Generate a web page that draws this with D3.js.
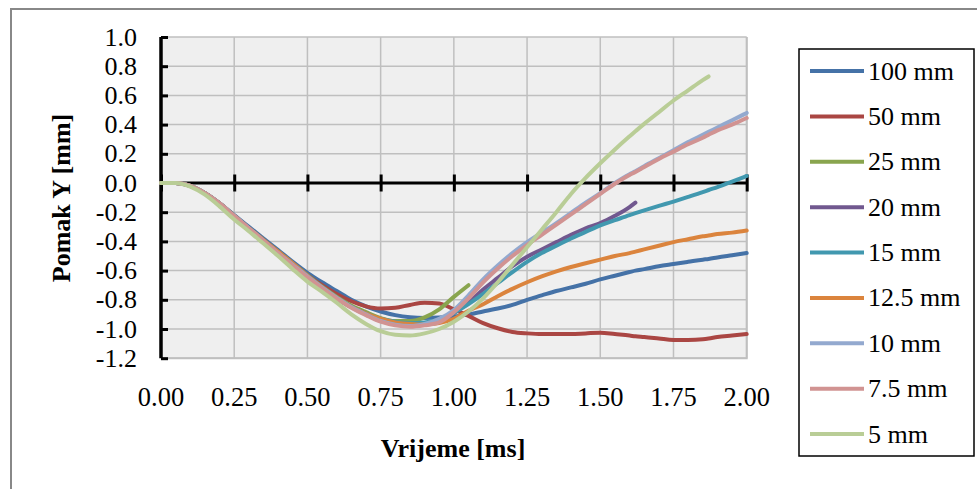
<!DOCTYPE html>
<html>
<head>
<meta charset="utf-8">
<script src="https://cdn.jsdelivr.net/npm/d3@7"></script>
<style>
  html, body { margin: 0; padding: 0; background: #fff; }
  svg { display: block; }
  text { font-family: "Liberation Serif", "Times New Roman", serif; fill: #000; }
</style>
</head>
<body>
<svg id="chart" width="977" height="489"></svg>
<script>
// ---- data ----
const time = [0,0.05,0.1,0.15,0.2,0.25,0.3,0.35,0.4,0.45,0.5,0.55,0.6,0.65,0.7,0.75,0.8,0.85,0.9,0.95,1.0,1.05,1.1,1.15,1.2,1.25,1.3,1.35,1.4,1.45,1.5,1.55,1.6,1.62,1.65,1.7,1.75,1.8,1.85,1.87,1.9,1.95,2.0];

const s100 = [0,0,-0.02,-0.07,-0.14,-0.22,-0.30,-0.38,-0.46,-0.54,-0.615,-0.68,-0.74,-0.80,-0.845,-0.88,-0.905,-0.92,-0.925,-0.922,-0.915,-0.90,-0.88,-0.86,-0.835,-0.80,-0.77,-0.74,-0.715,-0.69,-0.66,-0.635,-0.61,-0.60,-0.59,-0.57,-0.555,-0.54,-0.525,-0.52,-0.51,-0.495,-0.48];
const s50 = [0,0,-0.02,-0.07,-0.14,-0.225,-0.31,-0.39,-0.47,-0.55,-0.63,-0.70,-0.76,-0.81,-0.845,-0.86,-0.855,-0.835,-0.82,-0.825,-0.865,-0.91,-0.96,-0.995,-1.02,-1.03,-1.035,-1.035,-1.035,-1.03,-1.025,-1.035,-1.045,-1.05,-1.055,-1.065,-1.075,-1.075,-1.07,-1.065,-1.055,-1.045,-1.035];
const s25 = [0,0,-0.02,-0.07,-0.14,-0.225,-0.31,-0.39,-0.47,-0.55,-0.63,-0.71,-0.78,-0.84,-0.885,-0.925,-0.945,-0.945,-0.92,-0.865,-0.78,-0.70,null,null,null,null,null,null,null,null,null,null,null,null,null,null,null,null,null,null,null,null,null];
const s20 = [0,0,-0.02,-0.07,-0.14,-0.225,-0.31,-0.39,-0.47,-0.55,-0.635,-0.715,-0.79,-0.85,-0.90,-0.935,-0.96,-0.97,-0.965,-0.94,-0.89,-0.82,-0.73,-0.65,-0.57,-0.505,-0.455,-0.405,-0.355,-0.31,-0.275,-0.225,-0.165,-0.135,null,null,null,null,null,null,null,null,null];
const s15 = [0,0,-0.02,-0.07,-0.14,-0.225,-0.31,-0.39,-0.47,-0.55,-0.635,-0.715,-0.79,-0.85,-0.895,-0.93,-0.95,-0.96,-0.955,-0.935,-0.89,-0.83,-0.76,-0.685,-0.61,-0.54,-0.48,-0.43,-0.38,-0.335,-0.29,-0.255,-0.22,-0.207,-0.188,-0.157,-0.127,-0.095,-0.062,-0.048,-0.028,0.01,0.048];
const s12 = [0,0,-0.02,-0.07,-0.14,-0.225,-0.31,-0.39,-0.47,-0.55,-0.635,-0.715,-0.79,-0.85,-0.895,-0.93,-0.955,-0.965,-0.97,-0.96,-0.93,-0.875,-0.83,-0.775,-0.725,-0.68,-0.64,-0.605,-0.575,-0.55,-0.525,-0.50,-0.48,-0.47,-0.455,-0.43,-0.405,-0.385,-0.365,-0.36,-0.35,-0.34,-0.325];
const s10 = [0,0,-0.02,-0.07,-0.14,-0.225,-0.31,-0.395,-0.48,-0.56,-0.64,-0.715,-0.785,-0.85,-0.90,-0.945,-0.97,-0.98,-0.965,-0.93,-0.87,-0.77,-0.66,-0.565,-0.48,-0.405,-0.34,-0.275,-0.205,-0.135,-0.07,0.0,0.06,0.08,0.115,0.17,0.225,0.28,0.33,0.35,0.38,0.43,0.48];
const s7 = [0,0,-0.02,-0.07,-0.14,-0.225,-0.31,-0.395,-0.48,-0.565,-0.645,-0.72,-0.79,-0.855,-0.905,-0.95,-0.975,-0.985,-0.975,-0.955,-0.885,-0.79,-0.68,-0.585,-0.50,-0.425,-0.355,-0.285,-0.215,-0.145,-0.075,-0.005,0.055,0.075,0.11,0.165,0.215,0.265,0.31,0.33,0.36,0.40,0.445];
const s5 = [0,0,-0.025,-0.08,-0.16,-0.25,-0.33,-0.415,-0.50,-0.59,-0.675,-0.745,-0.82,-0.90,-0.965,-1.015,-1.04,-1.045,-1.03,-1.0,-0.95,-0.88,-0.79,-0.68,-0.56,-0.44,-0.32,-0.20,-0.075,0.035,0.135,0.23,0.32,0.355,0.405,0.485,0.565,0.635,0.705,0.73,null,null,null];

const seriesNames = ["100 mm","50 mm","25 mm","20 mm","15 mm","12.5 mm","10 mm","7.5 mm","5 mm"];
const seriesValues = [s100, s50, s25, s20, s15, s12, s10, s7, s5];
const seriesColors = ["#4572A7","#AA4643","#89A54E","#71588F","#4198AF","#DB843D","#93A9CF","#D19392","#B9CD96"];

const xTicks = [0,0.25,0.5,0.75,1.0,1.25,1.5,1.75,2.0];
const yTicks = [1.0,0.8,0.6,0.4,0.2,0.0,-0.2,-0.4,-0.6,-0.8,-1.0,-1.2];
const xTitle = "Vrijeme [ms]";
const yTitle = "Pomak Y [mm]";

// ---- layout ----
const svg = d3.select("#chart");
const L = 161, R = 746.7, T = 37, B = 358.2;
const x = d3.scaleLinear().domain([0, 2]).range([L, R]);
const y = d3.scaleLinear().domain([-1.2, 1.0]).range([B, T]);
const fmtY = v => d3.format(".1f")(v).replace("\u2212", "-");
const fmtX = v => d3.format(".2f")(v);

// outer frame (top + left visible)
svg.append("path").attr("d", `M11,489 V9 H977`).attr("fill","none").attr("stroke","#888").attr("stroke-width",2);

// plot background
svg.append("rect").attr("x", L).attr("y", T).attr("width", R - L).attr("height", B - T).attr("fill", "#efefef");

// gridlines
const grid = svg.append("g").attr("stroke", "#bfbfbf").attr("stroke-width", 1.5);
xTicks.forEach(t => { if (t > 0) grid.append("line").attr("x1", x(t)).attr("x2", x(t)).attr("y1", T).attr("y2", B); });
yTicks.forEach(v => grid.append("line").attr("x1", L).attr("x2", R).attr("y1", y(v)).attr("y2", y(v)));
// plot border right/bottom
svg.append("path").attr("d", `M${L},${B} H${R} V${T}`).attr("fill","none").attr("stroke","#bfbfbf").attr("stroke-width",2);

// y axis (left, ticks inward)
const yAxis = d3.axisRight(y).tickValues(yTicks).tickSize(7).tickFormat("");
const gy = svg.append("g").attr("transform", `translate(${L},0)`).call(yAxis);
gy.select(".domain").attr("stroke", "#000").attr("stroke-width", 3.5).attr("d", `M0,${T}V${B}`);
gy.selectAll(".tick line").attr("stroke", "#000").attr("stroke-width", 3);

// y tick labels
svg.append("g").selectAll("text").data(yTicks).join("text")
  .attr("x", 137).attr("y", d => y(d) + 8.5)
  .attr("text-anchor", "end").attr("font-size", 26)
  .text(fmtY);

// x axis at y=0 (ticks crossing)
const xAxis = d3.axisBottom(x).tickValues(xTicks).tickSize(0).tickFormat("");
const gx = svg.append("g").attr("transform", `translate(0,${y(0)})`).call(xAxis);
gx.select(".domain").attr("stroke", "#000").attr("stroke-width", 3).attr("d", `M${L},0H${R}`);
gx.selectAll(".tick line").attr("stroke", "#000").attr("stroke-width", 3).attr("y1", -8.5).attr("y2", 8.5);

// x tick labels at bottom
svg.append("g").selectAll("text").data(xTicks).join("text")
  .attr("x", d => x(d)).attr("y", 406)
  .attr("text-anchor", "middle").attr("font-size", 26.5)
  .text(fmtX);

// axis titles
svg.append("text").attr("x", 453).attr("y", 457).attr("text-anchor", "middle")
  .attr("font-size", 26).attr("font-weight", "bold").text(xTitle);
svg.append("text").attr("transform", "translate(70,198) rotate(-90)").attr("text-anchor", "middle")
  .attr("font-size", 26).attr("font-weight", "bold").text(yTitle);

// lines
const line = d3.line().defined(d => d[1] !== null).x(d => x(d[0])).y(d => y(d[1])).curve(d3.curveMonotoneX);
const gl = svg.append("g");
seriesValues.forEach((vals, i) => {
  const pts = time.map((t, j) => [t, vals[j]]);
  gl.append("path").datum(pts).attr("d", line)
    .attr("fill", "none").attr("stroke", seriesColors[i]).attr("stroke-width", 4)
    .attr("stroke-linejoin", "round").attr("stroke-linecap", "round");
});

// legend
const lg = svg.append("g");
lg.append("rect").attr("x", 799).attr("y", 49).attr("width", 175).attr("height", 407)
  .attr("fill", "#fff").attr("stroke", "#000").attr("stroke-width", 1.5);
const rowY = d3.scalePoint().domain(seriesNames).range([71, 434]);
seriesNames.forEach((n, i) => {
  lg.append("line").attr("x1", 810).attr("x2", 864).attr("y1", rowY(n)).attr("y2", rowY(n))
    .attr("stroke", seriesColors[i]).attr("stroke-width", 4);
  lg.append("text").attr("x", 868).attr("y", rowY(n) + 8.5).attr("font-size", 26).text(n);
});
</script>
</body>
</html>
